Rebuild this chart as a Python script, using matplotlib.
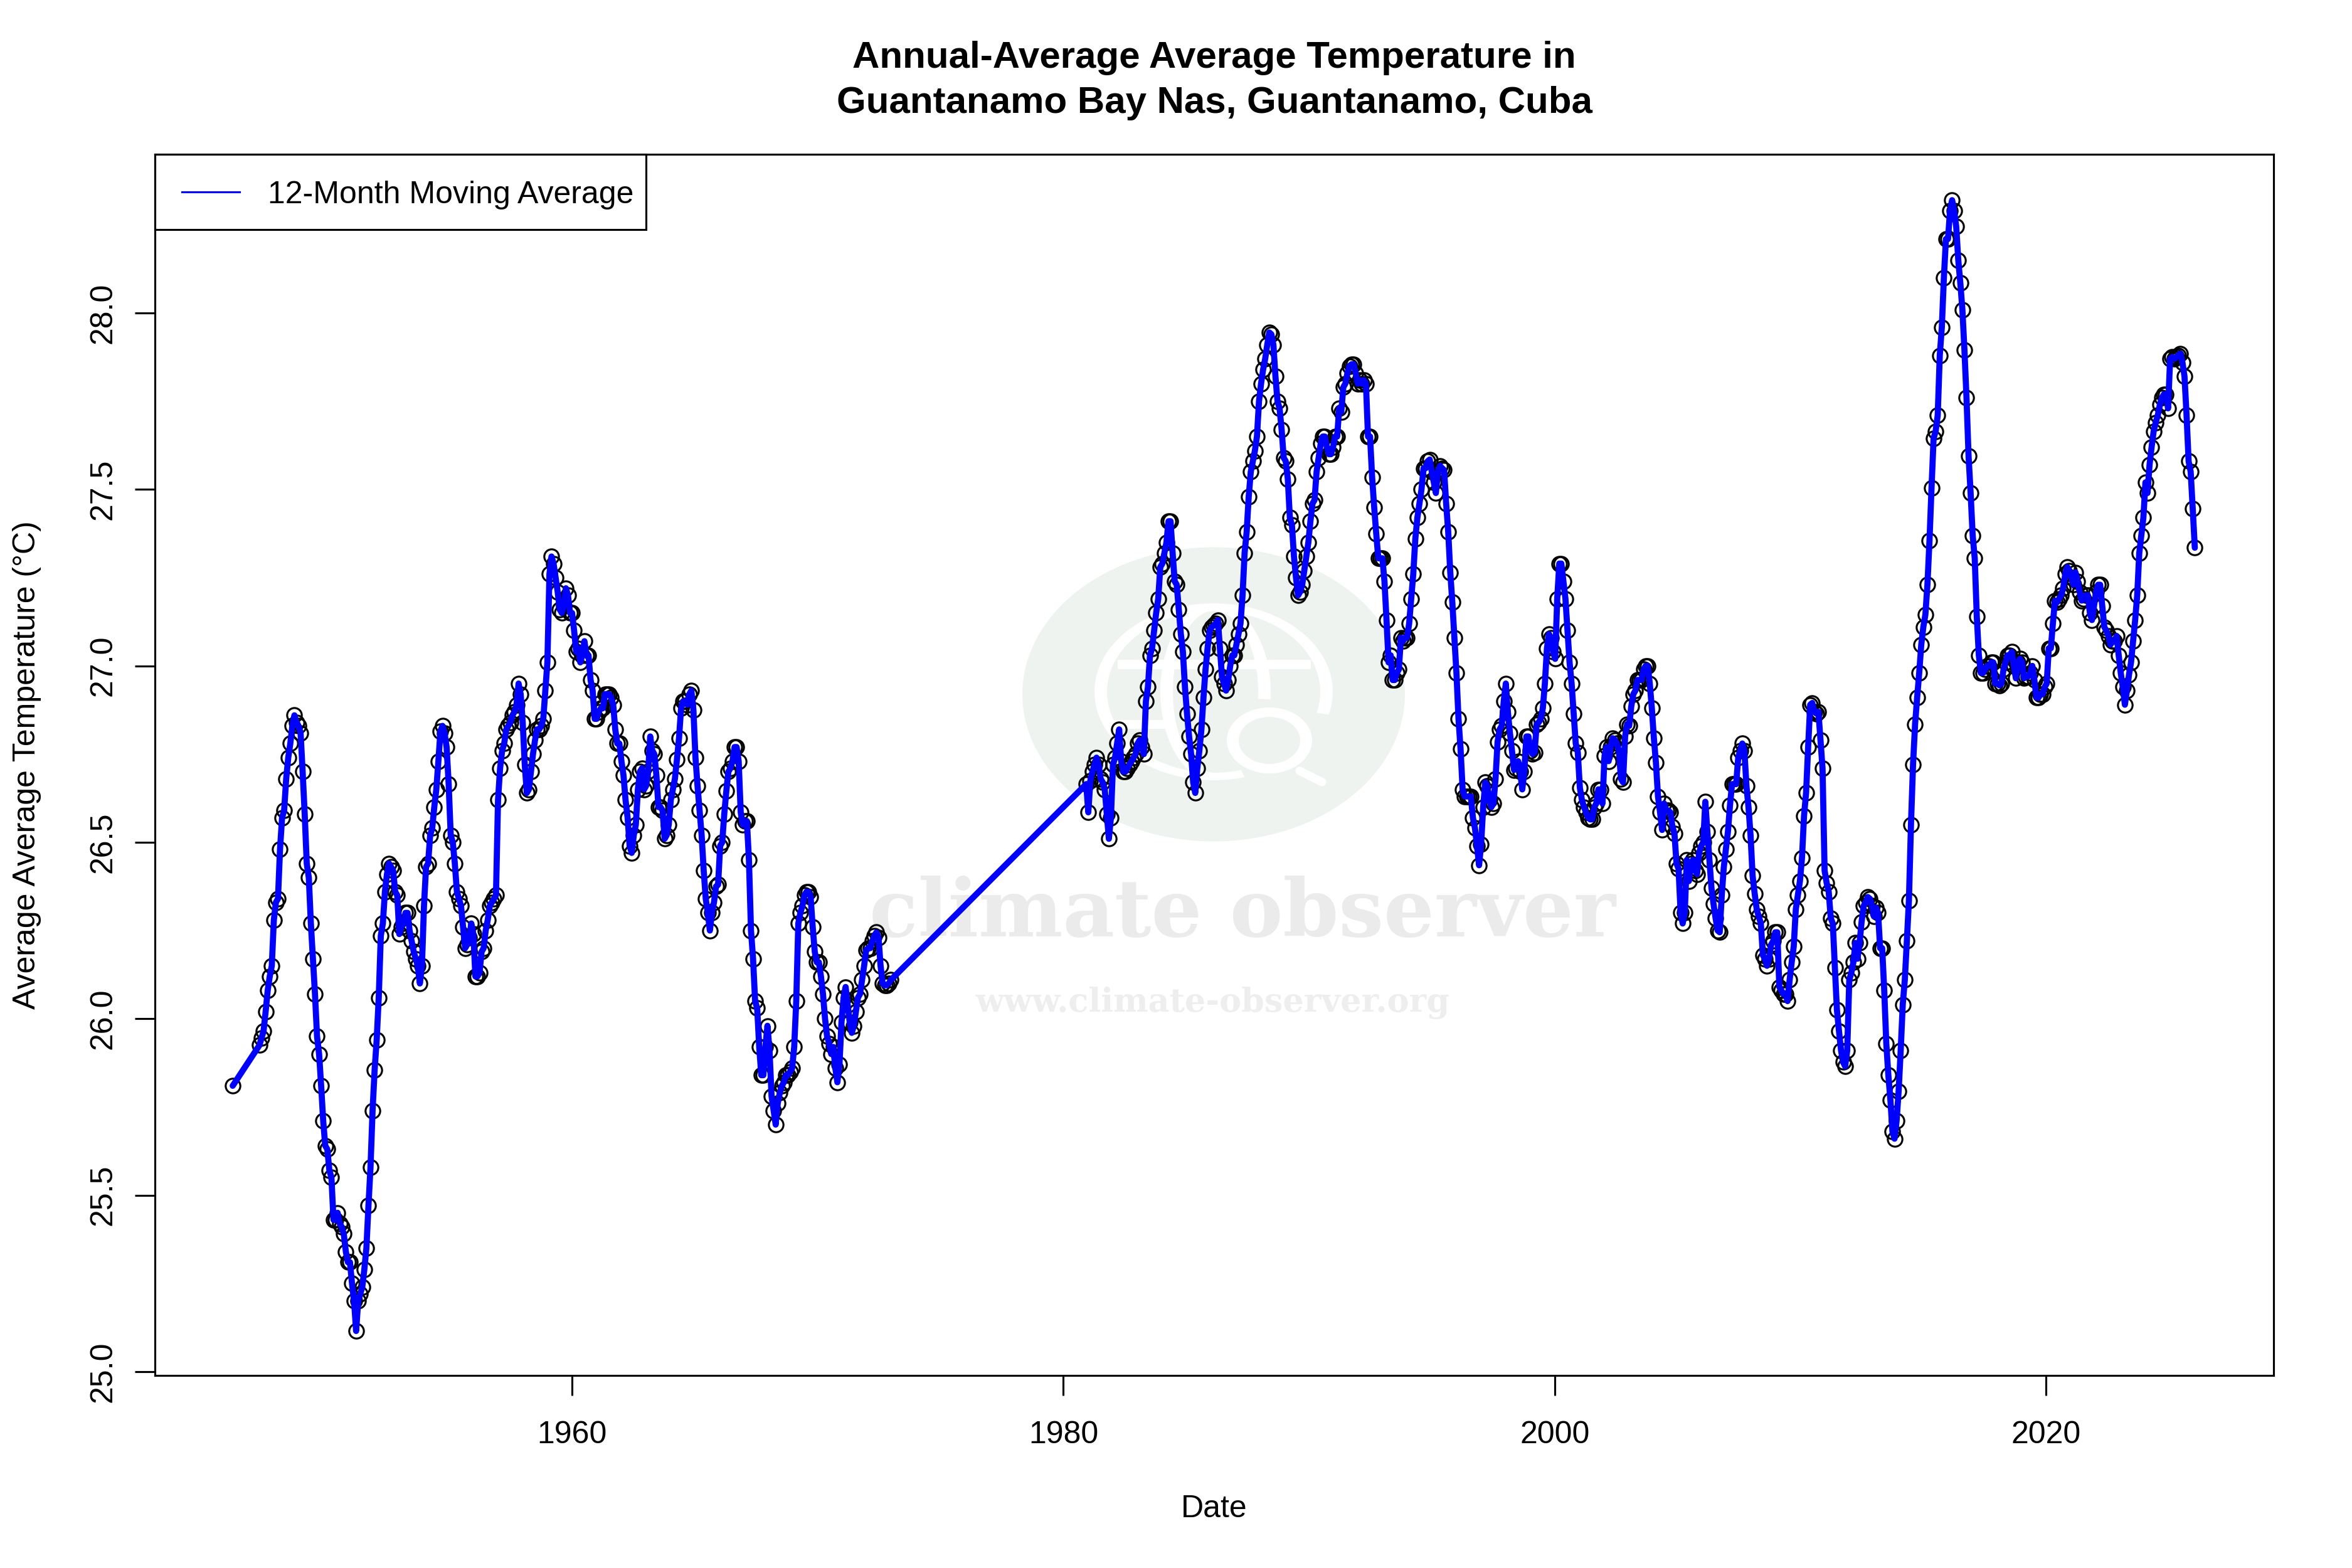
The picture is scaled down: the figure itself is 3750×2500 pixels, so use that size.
import matplotlib
matplotlib.use("Agg")
import matplotlib.pyplot as plt
import numpy as np
from matplotlib.lines import Line2D
from matplotlib.patches import Ellipse, Rectangle
from matplotlib.transforms import Affine2D

# monthly 12-month moving average
temps_1946 = [25.81]  # Apr 1946

temps_1947 = [
    25.925, 25.945, 25.965, 26.02, 26.08, 26.12, 26.15, 26.28,  # May-Dec 1947
    26.33, 26.34, 26.48, 26.57, 26.59, 26.68, 26.74, 26.78, 26.83, 26.86, 26.84, 26.83,
    26.81, 26.70, 26.58, 26.44, 26.40, 26.27, 26.17, 26.07, 25.95, 25.90, 25.81, 25.71,
    25.64, 25.63, 25.57, 25.55, 25.43, 25.43, 25.45, 25.42, 25.41, 25.39, 25.34, 25.31,
    25.31, 25.25, 25.20, 25.115, 25.20, 25.22, 25.24, 25.29, 25.35, 25.47, 25.58, 25.74,
    25.855, 25.94, 26.06, 26.235, 26.27, 26.36, 26.41, 26.44, 26.43, 26.42, 26.36, 26.35,
    26.24, 26.26, 26.27, 26.30, 26.30, 26.25, 26.22, 26.19, 26.17, 26.15, 26.10, 26.15,
    26.32, 26.43, 26.44, 26.52, 26.54, 26.60, 26.65, 26.73, 26.815, 26.83, 26.81, 26.77,
    26.665, 26.52, 26.50, 26.44, 26.36, 26.34, 26.32, 26.26, 26.20, 26.21, 26.23, 26.27,
    26.24, 26.12, 26.12, 26.13, 26.19, 26.20, 26.25, 26.28, 26.32, 26.33, 26.34, 26.35,
    26.62, 26.71, 26.76, 26.78, 26.82, 26.83, 26.84, 26.86, 26.87, 26.89, 26.95, 26.92,
    26.84, 26.72, 26.64, 26.65, 26.70, 26.75, 26.79, 26.82, 26.82, 26.83, 26.85, 26.93,
    27.01, 27.26, 27.31, 27.29, 27.25, 27.21, 27.16, 27.15, 27.17, 27.22, 27.20, 27.15,
    27.15, 27.10, 27.04, 27.05, 27.01, 27.03, 27.07, 27.03, 27.03, 26.96, 26.93, 26.85,
    26.85, 26.87, 26.88, 26.88, 26.92, 26.92, 26.92, 26.91, 26.89, 26.82, 26.78, 26.78,
    26.73, 26.69, 26.62, 26.57, 26.49, 26.47, 26.52, 26.55, 26.65, 26.70, 26.71, 26.65,
    26.66, 26.70, 26.80, 26.76, 26.75, 26.69, 26.60, 26.60, 26.59, 26.51, 26.52, 26.55,
    26.62, 26.65, 26.68, 26.735, 26.795, 26.88, 26.90, 26.90, 26.89, 26.92, 26.93, 26.875,
    26.74, 26.66, 26.59, 26.52, 26.42, 26.34, 26.30, 26.25, 26.30, 26.33, 26.375, 26.38,
    26.49, 26.50, 26.58, 26.645, 26.70, 26.71, 26.73, 26.77, 26.77, 26.73, 26.585, 26.55,
    26.56, 26.56, 26.45, 26.25, 26.17, 26.05, 26.03, 25.92, 25.84, 25.84, 25.92, 25.98,
    25.91, 25.78, 25.74, 25.70, 25.76, 25.79, 25.81, 25.82, 25.84, 25.84, 25.85, 25.86,
    25.92, 26.05, 26.27, 26.30, 26.32, 26.35, 26.36, 26.36, 26.345, 26.26, 26.19, 26.16,
    26.16, 26.12, 26.07, 26.00, 25.95, 25.93, 25.90, 25.92, 25.86, 25.82, 25.87, 25.99,
    26.06, 26.09, 26.04, 25.99, 25.96, 25.98, 26.02, 26.06, 26.07, 26.11, 26.15, 26.195,
    26.20, 26.20, 26.22, 26.235, 26.245, 26.23, 26.15, 26.10, 26.095, 26.095, 26.10, 26.11,
]

temps_1980 = [
    26.665, 26.585,  # Nov-Dec 1980
    26.675, 26.70, 26.72, 26.74, 26.72, 26.68, 26.67, 26.65, 26.58, 26.51, 26.57, 26.72,
    26.74, 26.78, 26.82, 26.73, 26.70, 26.70, 26.71, 26.72, 26.73, 26.74, 26.75, 26.78,
    26.79, 26.77, 26.75, 26.90, 26.94, 27.03, 27.05, 27.10, 27.15, 27.19, 27.28, 27.29,
    27.32, 27.35, 27.41, 27.41, 27.32, 27.24, 27.23, 27.16, 27.09, 27.04, 26.94, 26.865,
    26.80, 26.75, 26.67, 26.64, 26.71, 26.76, 26.82, 26.91, 26.99, 27.05, 27.10, 27.11,
    27.115, 27.12, 27.13, 27.05, 26.97, 26.95, 26.93, 26.96, 27.00, 27.03, 27.03, 27.06,
    27.09, 27.12, 27.20, 27.32, 27.38, 27.48, 27.55, 27.58, 27.61, 27.65, 27.75, 27.80,
    27.84, 27.87, 27.91, 27.945, 27.94, 27.91, 27.82, 27.75, 27.73, 27.67, 27.59, 27.58,
    27.53, 27.42, 27.40, 27.31, 27.25, 27.20, 27.21, 27.23, 27.27, 27.31, 27.35, 27.41,
    27.46, 27.47, 27.55, 27.59, 27.63, 27.65, 27.65, 27.62, 27.60, 27.60, 27.62, 27.65,
    27.65, 27.73, 27.72, 27.79, 27.80, 27.83, 27.85, 27.855, 27.855, 27.83, 27.80, 27.81,
    27.80, 27.81, 27.80, 27.65, 27.65, 27.535, 27.45, 27.375, 27.305, 27.305, 27.305, 27.24,
    27.13, 27.01, 27.03, 26.96, 26.96, 26.98, 26.99, 27.08, 27.07, 27.08, 27.08, 27.12,
    27.19, 27.26, 27.36, 27.42, 27.46, 27.50, 27.56, 27.56, 27.58, 27.585, 27.55, 27.52,
    27.49, 27.55, 27.567, 27.56, 27.555, 27.46, 27.38, 27.265, 27.18, 27.08, 26.98, 26.85,
    26.765, 26.65, 26.63, 26.63, 26.63, 26.63, 26.57, 26.54, 26.49, 26.435, 26.495, 26.60,
    26.67, 26.66, 26.62, 26.60, 26.61, 26.68, 26.785, 26.82, 26.83, 26.90, 26.95, 26.87,
    26.81, 26.76, 26.705, 26.71, 26.73, 26.70, 26.65, 26.70, 26.80, 26.80, 26.76, 26.75,
    26.755, 26.835, 26.84, 26.85, 26.88, 26.95, 27.05, 27.09, 27.08, 27.04, 27.02, 27.19,
    27.29, 27.29, 27.24, 27.19, 27.10, 27.01, 26.95, 26.865, 26.78, 26.755, 26.655, 26.62,
    26.60, 26.585, 26.57, 26.565, 26.565, 26.60, 26.61, 26.65, 26.65, 26.61, 26.745, 26.77,
    26.73, 26.77, 26.795, 26.79, 26.78, 26.76, 26.68, 26.67, 26.80, 26.835, 26.83, 26.885,
    26.92, 26.93, 26.96, 26.96, 26.96, 26.99, 27.00, 27.00, 26.95, 26.88, 26.795, 26.725,
    26.63, 26.585, 26.535, 26.61, 26.59, 26.59, 26.585, 26.545, 26.525, 26.44, 26.425, 26.30,
    26.27, 26.30, 26.45, 26.39, 26.44, 26.45, 26.42, 26.41, 26.47, 26.49, 26.50, 26.615,
    26.53, 26.45, 26.37, 26.325, 26.285, 26.25, 26.245, 26.35, 26.43, 26.48, 26.53, 26.605,
    26.665, 26.665, 26.665, 26.74, 26.76, 26.78, 26.76, 26.66, 26.60, 26.52, 26.405, 26.355,
    26.31, 26.29, 26.27, 26.18, 26.17, 26.15, 26.17, 26.21, 26.22, 26.245, 26.245, 26.09,
    26.08, 26.07, 26.07, 26.05, 26.11, 26.16, 26.205, 26.31, 26.35, 26.39, 26.455, 26.575,
    26.64, 26.77, 26.89, 26.895, 26.87, 26.865, 26.87, 26.79, 26.71, 26.42, 26.385, 26.36,
    26.285, 26.27, 26.145, 26.025, 25.965, 25.91, 25.877, 25.865, 25.91, 26.11, 26.13, 26.16,
    26.215, 26.17, 26.215, 26.275, 26.32, 26.33, 26.345, 26.34, 26.32, 26.29, 26.315, 26.30,
    26.20, 26.20, 26.08, 25.93, 25.84, 25.77, 25.68, 25.66, 25.71, 25.795, 25.91, 26.04,
    26.11, 26.22, 26.335, 26.55, 26.72, 26.835, 26.91, 26.98, 27.06, 27.11, 27.145, 27.23,
    27.355, 27.505, 27.645, 27.665, 27.71, 27.88, 27.96, 28.10, 28.21, 28.21, 28.29, 28.32,
    28.29, 28.245, 28.15, 28.085, 28.01, 27.895, 27.76, 27.595, 27.49, 27.37, 27.305, 27.14,
    27.03, 26.98, 26.98, 26.99, 27.00, 27.00, 27.01, 27.01, 26.95, 26.95, 26.945, 26.95,
    26.99, 27.01, 27.03, 27.03, 27.04, 27.00, 26.965, 27.01, 27.02, 27.01, 26.965, 26.97,
    26.97, 26.98, 27.00, 26.96, 26.91, 26.91, 26.92, 26.92, 26.94, 26.95, 27.05, 27.05,
    27.12, 27.185, 27.18, 27.19, 27.20, 27.22, 27.26, 27.28, 27.27, 27.25, 27.23, 27.265,
    27.24, 27.21, 27.185, 27.19, 27.20, 27.20, 27.15, 27.13, 27.17, 27.21, 27.23, 27.23,
    27.17, 27.11, 27.10, 27.085, 27.06, 27.07, 27.07, 27.085, 27.03, 26.98, 26.94, 26.89,
    26.93, 26.975, 27.01, 27.07, 27.13, 27.20, 27.32, 27.37, 27.42, 27.52, 27.49, 27.57,
    27.62, 27.665, 27.69, 27.71, 27.74, 27.76, 27.77, 27.77, 27.73, 27.87, 27.875, 27.87,
    27.875, 27.88, 27.885, 27.86, 27.82, 27.71, 27.58, 27.55, 27.445, 27.335,  # last months
]

# first month of each stretch of data
start_1946 = 1946 + 3 / 12
start_1947 = 1947 + 4 / 12
start_1980 = 1980 + 10 / 12
# spacing of the points on the date axis, as measured against the year ticks
month_step = 1.0046 / 12

x_ticks = [1960, 1980, 2000, 2020]
y_ticks = [25.0, 25.5, 26.0, 26.5, 27.0, 27.5, 28.0]

dates = np.concatenate([
    start_1946 + np.arange(len(temps_1946)) / 12,
    start_1947 + np.arange(len(temps_1947)) / 12,
    start_1980 + np.arange(len(temps_1980)) / 12,
])
dates = 1960 + (dates - 1960) * (month_step * 12)
temps = np.array(temps_1946 + temps_1947 + temps_1980)

W, H = 3750, 2500
plt.rcParams['font.family'] = ['Liberation Sans', 'DejaVu Sans']
fig = plt.figure(figsize=(W / 300, H / 300), dpi=300)
ax = fig.add_axes([247 / W, 1 - 2193 / H, (3625 - 247) / W, (2193 - 246) / H])

# pixel coordinates of the image, y going down
px = Affine2D().scale(1, -1).translate(0, H)


def wm_ellipse(cx, cy, w, h, color):
    ax.add_patch(Ellipse((cx, cy), w, h, transform=px, facecolor=color, edgecolor='none',
                         clip_on=False, zorder=0))


def wm_arc(cx, cy, rx, ry, thick_x, thick_y, t0, t1):
    # white band along an ellipse, angles in degrees, y going down
    t = np.radians(np.linspace(t0, t1, 120))
    xs = np.r_[cx + (rx + thick_x) * np.cos(t), cx + (rx - thick_x) * np.cos(t[::-1])]
    ys = np.r_[cy + (ry + thick_y) * np.sin(t), cy + (ry - thick_y) * np.sin(t[::-1])]
    ax.fill(xs, ys, transform=px, color='white', linewidth=0, clip_on=False, zorder=0)


# Watermark
wm_green = '#eff3f0'
wm_ellipse(1935, 1107, 610, 469, wm_green)
wm_arc(1935, 1103, 180, 135, 10, 6, 75, 375)
wm_arc(1935, 1103, 75, 135, 10, 6, 90, 270)
wm_arc(1935, 1103, 81, 135, 10, 6, -90, 5)
ax.fill([1782, 2090, 2090, 1782], [1052, 1052, 1067, 1067], transform=px, color='white',
        linewidth=0, clip_on=False, zorder=0)
ax.fill([1775, 1870, 1870, 1775], [1148, 1148, 1162, 1162], transform=px, color='white',
        linewidth=0, clip_on=False, zorder=0)
wm_ellipse(2024, 1180.5, 136, 105, 'white')
wm_ellipse(2024, 1180.5, 98, 75, wm_green)
ax.add_line(Line2D([2072, 2108], [1229, 1247], transform=px, color='white', lw=3.2,
                   solid_capstyle='round', zorder=0))
ax.text(1981, 1493, 'climate observer', transform=px, ha='center', va='baseline',
        family='DejaVu Serif', weight='bold', fontsize=30.5, color='#ebebeb', zorder=0)
ax.text(1934, 1613, 'www.climate-observer.org', transform=px, ha='center', va='baseline',
        family='DejaVu Serif', weight='bold', fontsize=12.6, color='#eeeeee', zorder=0)

# Points and line
ax.plot(dates, temps, linestyle='none', marker='o', markersize=5.6, markerfacecolor='none',
        markeredgecolor='black', markeredgewidth=0.75, zorder=2)
ax.plot(dates, temps, color='#0000ff', linewidth=2.35, solid_capstyle='round',
        solid_joinstyle='round', zorder=3)

ax.set_xlim(1943.02, 2029.26)
ax.set_ylim(24.989, 28.45)
ax.set_xticks(x_ticks)
ax.set_yticks(y_ticks)
ax.set_yticklabels(['%.1f' % v for v in y_ticks], rotation=90, va='center')
ax.tick_params(length=7.7, width=0.75, labelsize=12)
ax.tick_params(axis='x', pad=9.6)
ax.tick_params(axis='y', pad=6.6)
for spine in ax.spines.values():
    spine.set_linewidth(0.75)

# Titles and axis labels
fig.text(1936 / W, 1 - 93 / H, 'Annual-Average Average Temperature in', ha='center', va='center',
         fontsize=14.4, fontweight='bold')
fig.text(1936 / W, 1 - 164 / H, 'Guantanamo Bay Nas, Guantanamo, Cuba', ha='center', va='center',
         fontsize=14.4, fontweight='bold')
fig.text(1936 / W, 1 - 2406 / H, 'Date', ha='center', va='center', fontsize=12)
fig.text(43 / W, 1 - 1220 / H, 'Average Average Temperature (°C)', ha='center', va='center',
         rotation=90, fontsize=12)

# Legend box
ax.add_patch(Rectangle((247, 246), 783, 120, transform=px, facecolor='white', edgecolor='black',
                       linewidth=0.75, clip_on=False, zorder=4))
ax.add_line(Line2D([290, 382], [306, 306], transform=px, color='#0000ff', lw=0.75, zorder=5))
ax.text(427, 306, '12-Month Moving Average', transform=px, ha='left', va='center_baseline',
        fontsize=12, zorder=5)

fig.savefig('out.png', dpi=300)
